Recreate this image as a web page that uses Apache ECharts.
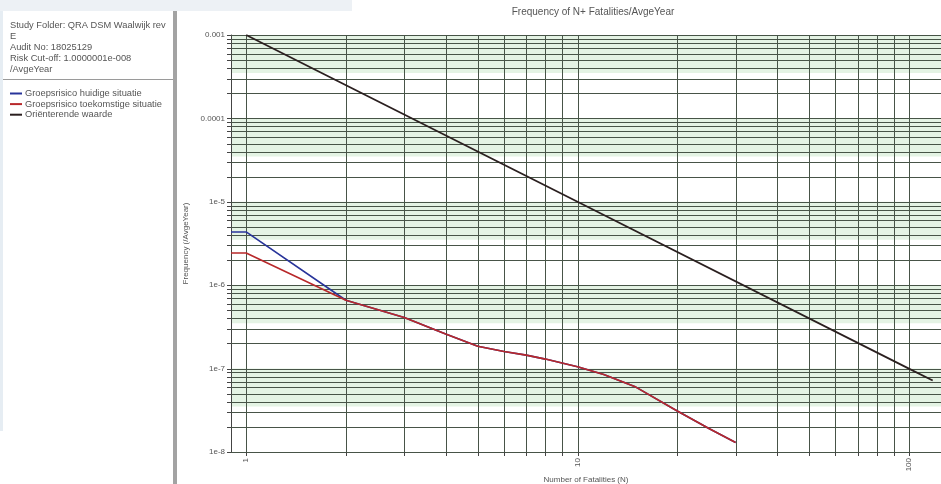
<!DOCTYPE html>
<html>
<head>
<meta charset="utf-8">
<script src="https://cdn.jsdelivr.net/npm/echarts@6/dist/echarts.min.js"></script>
<style>
html,body{margin:0;padding:0;background:#fff;}
#chart{width:941px;height:484px;}
</style>
</head>
<body>
<div id="chart"></div>
<script>
// ---- data ----
const nValues = [0.9, 1, 2, 3, 4, 5, 6, 7, 8, 10, 12, 15, 20, 25, 30];
const huidigeFreq = [4.35e-6, 4.35e-6, 6.6e-7, 4.1e-7, 2.6e-7, 1.85e-7, 1.6e-7, 1.45e-7, 1.3e-7, 1.05e-7, 8.5e-8, 6.0e-8, 3.1e-8, 1.9e-8, 1.3e-8];
const toekomstigeFreq = [2.43e-6, 2.43e-6, 6.6e-7, 4.1e-7, 2.6e-7, 1.85e-7, 1.6e-7, 1.45e-7, 1.3e-7, 1.05e-7, 8.5e-8, 6.0e-8, 3.1e-8, 1.9e-8, 1.3e-8];
const orientN = [1, 10, 100, 118];
const orientFreq = [1e-3, 1e-5, 1e-7, 7.2e-8];
const seriesNames = ['Groepsrisico huidige situatie', 'Groepsrisico toekomstige situatie', 'Oriënterende waarde'];
const yTickLabels = {'-3': '0.001', '-4': '0.0001', '-5': '1e-5', '-6': '1e-6', '-7': '1e-7', '-8': '1e-8'};
const xTickLabels = {'0': '1', '1': '10', '2': '100'};
const infoLines = ['Study Folder: QRA DSM Waalwijk rev', 'E', 'Audit No: 18025129', 'Risk Cut-off: 1.0000001e-008', '/AvgeYear'];
const titleText = 'Frequency of N+ Fatalities/AvgeYear';
const xName = 'Number of Fatalities (N)';
const yName = 'Frequency (/AvgeYear)';
const xMin = 0.9, xMax = 125, yMin = 1e-8, yMax = 1e-3;

// ---- helpers (grid line values: decades and 2..9 multiples) ----
const yGridVals = [];
for (let d = -8; d <= -3; d++) for (let k = 1; k <= 9; k++) { const v = k * Math.pow(10, d); if (v <= yMax * 1.0001) yGridVals.push(v); }
const xGridVals = [];
for (let d = 0; d <= 2; d++) for (let k = 1; k <= 9; k++) { const v = k * Math.pow(10, d); if (v < xMax) xGridVals.push(v); }
const bandVals = [];
for (let d = -3; d > -8; d--) bandVals.push([Math.pow(10, d), 3.5 * Math.pow(10, d - 1)]);

const FONT = 'Liberation Sans, Arial, sans-serif';
const gridColor = '#475447';

const chart = echarts.init(document.getElementById('chart'), null, {renderer: 'canvas'});

const option = {
  animation: false,
  backgroundColor: '#fff',
  title: {
    text: titleText, left: 588, top: 2, textAlign: 'center',
    textStyle: {fontFamily: FONT, fontSize: 10, fontWeight: 'normal', color: '#555'}
  },
  legend: {
    orient: 'vertical', left: 10, top: 89, padding: 0, itemGap: 1.6, itemWidth: 12, itemHeight: 2,
    icon: 'rect', data: seriesNames,
    textStyle: {fontFamily: FONT, fontSize: 9.3, color: '#555', padding: [0, 0, 0, -2]}
  },
  grid: {left: 231, right: 0, top: 35, bottom: 32, containLabel: false, outerBoundsMode: 'none'},
  xAxis: {
    type: 'log', logBase: 10, min: xMin, max: xMax,
    name: xName, nameLocation: 'middle', nameGap: 24, nameMoveOverlap: false,
    nameTextStyle: {fontFamily: FONT, fontSize: 8, color: '#555'},
    axisLine: {show: true, lineStyle: {color: '#444', width: 1}},
    axisTick: {show: false},
    axisLabel: {
      show: true, rotate: 90, fontFamily: FONT, fontSize: 8, color: '#555', margin: 6,
      showMinLabel: false, showMaxLabel: false,
      formatter: v => { const e = Math.round(Math.log10(v)); return Math.abs(Math.log10(v) - e) < 1e-6 ? (xTickLabels[String(e)] || '') : ''; }
    },
    splitLine: {show: false}
  },
  yAxis: {
    type: 'log', logBase: 10, min: yMin, max: yMax,
    name: yName, nameLocation: 'middle', nameGap: 41, nameRotate: 90, nameMoveOverlap: false,
    nameTextStyle: {fontFamily: FONT, fontSize: 8, color: '#555'},
    axisLine: {show: true, lineStyle: {color: '#444', width: 1}},
    axisTick: {show: false},
    axisLabel: {
      fontFamily: FONT, fontSize: 8, color: '#555', margin: 6,
      formatter: v => yTickLabels[String(Math.round(Math.log10(v)))] || ''
    },
    splitLine: {show: false}
  },
  graphic: [
    {type: 'rect', left: 0, top: 0, shape: {width: 352, height: 11}, style: {fill: '#edf1f5'}, silent: true},
    {type: 'rect', left: 0, top: 11, shape: {width: 3, height: 420}, style: {fill: '#e6edf3'}, silent: true},
    {type: 'rect', left: 173, top: 11, shape: {width: 4, height: 473}, style: {fill: '#a3a3a3'}, silent: true},
    {type: 'rect', left: 3, top: 79, shape: {width: 170, height: 1}, style: {fill: '#9a9a9a'}, silent: true},
    {type: 'text', left: 10, top: 20, style: {text: infoLines.join('\n'), fill: '#555', font: '9.3px ' + FONT, lineHeight: 10.9}, silent: true}
  ],
  series: [
    {
      type: 'custom', name: 'bands', silent: true, z: 0,
      data: bandVals,
      renderItem: (params, api) => {
        const cs = params.coordSys;
        const y1 = api.coord([1, api.value(0)])[1];
        const y2 = api.coord([1, api.value(1)])[1];
        return {type: 'rect', shape: {x: cs.x, y: y1, width: cs.width, height: y2 - y1}, style: {fill: '#e4f3e4'}};
      },
      encode: {y: 0}
    },
    {
      type: 'custom', name: 'ygrid', silent: true, z: 1, clip: false,
      data: yGridVals.map(v => [1, v]),
      renderItem: (params, api) => {
        const cs = params.coordSys;
        const y = Math.round(api.coord([1, api.value(1)])[1]) + 0.5;
        return {type: 'group', children: [
          {type: 'line', shape: {x1: cs.x, y1: y, x2: cs.x + cs.width, y2: y}, style: {stroke: gridColor, lineWidth: 1}},
          {type: 'line', shape: {x1: cs.x - 4, y1: y, x2: cs.x, y2: y}, style: {stroke: '#444', lineWidth: 1}}
        ]};
      }
    },
    {
      type: 'custom', name: 'xgrid', silent: true, z: 1, clip: false,
      data: xGridVals.map(v => [v, 1e-5]),
      renderItem: (params, api) => {
        const cs = params.coordSys;
        const x = Math.round(api.coord([api.value(0), 1e-5])[0]) + 0.5;
        return {type: 'group', children: [
          {type: 'line', shape: {x1: x, y1: cs.y, x2: x, y2: cs.y + cs.height}, style: {stroke: gridColor, lineWidth: 1}},
          {type: 'line', shape: {x1: x, y1: cs.y + cs.height, x2: x, y2: cs.y + cs.height + 4}, style: {stroke: '#444', lineWidth: 1}}
        ]};
      }
    },
    {
      type: 'line', name: seriesNames[0], z: 5, showSymbol: false, symbol: 'none',
      color: '#28349a', lineStyle: {width: 1.6, color: '#28349a'},
      data: nValues.map((n, i) => [n, huidigeFreq[i]])
    },
    {
      type: 'line', name: seriesNames[1], z: 6, showSymbol: false, symbol: 'none',
      color: '#b8282a', lineStyle: {width: 1.6, color: '#b8282a'},
      data: nValues.map((n, i) => [n, toekomstigeFreq[i]])
    },
    {
      type: 'line', name: seriesNames[2], z: 7, showSymbol: false, symbol: 'none',
      color: '#2a1f1f', lineStyle: {width: 1.8, color: '#2a1f1f'},
      data: orientN.map((n, i) => [n, orientFreq[i]])
    }
  ]
};
chart.setOption(option);
</script>
</body>
</html>
